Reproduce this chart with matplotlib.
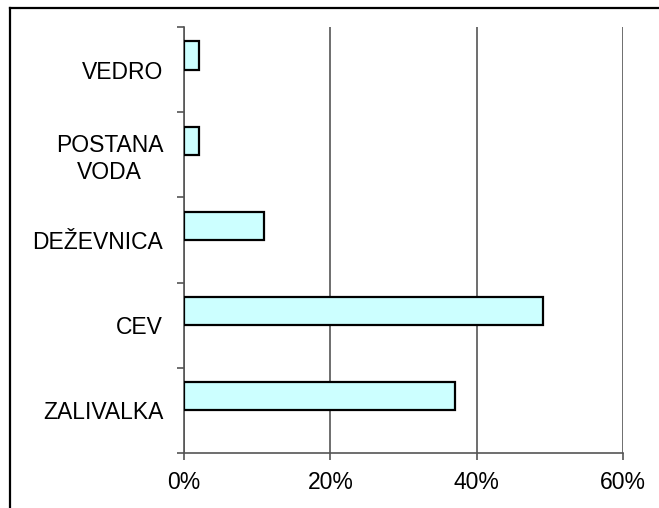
import numpy as np
import matplotlib
matplotlib.use('Agg')
import matplotlib.pyplot as plt
from matplotlib.lines import Line2D

plt.rcParams['font.family'] = ['Liberation Sans', 'DejaVu Sans']

categories = ['ZALIVALKA', 'CEV', 'DEŽEVNICA', 'POSTANA\nVODA', 'VEDRO']
values = [37, 49, 11, 2, 2]
xticks = [0, 20, 40, 60]
xtick_labels = ['0%', '20%', '40%', '60%']

fig = plt.figure(figsize=(6.59, 5.08), dpi=100)
ax = fig.add_axes([0.2792, 0.1083, 0.6662, 0.8386])

pos = np.arange(len(categories))
ax.barh(pos + 0.165, values, height=0.33, color='#CCFFFF',
        edgecolor='black', linewidth=1.6, zorder=3)

ax.set_xlim(0, 60)
ax.set_ylim(-0.5, len(categories) - 0.5)
ax.set_xticks(xticks)
ax.set_xticklabels(xtick_labels, fontsize=16.5)
ax.set_yticks(pos)
ax.set_yticklabels(categories, fontsize=16.5, multialignment='center')
ax.set_yticks(np.arange(len(categories) + 1) - 0.5, minor=True)

ax.tick_params(axis='y', which='major', length=0, pad=15)
ax.tick_params(axis='y', which='minor', length=5, width=1.2, color='#555555', direction='out')
ax.tick_params(axis='x', length=5, width=1.2, color='#555555', direction='out', pad=8)

ax.grid(axis='x', color='#555555', linewidth=1.2, zorder=0)
for s in ['top', 'right']:
    ax.spines[s].set_visible(False)
for s in ['left', 'bottom']:
    ax.spines[s].set_color('#555555')
    ax.spines[s].set_linewidth(1.2)

# outer frame (top and left only, the rest is cropped)
fig.add_artist(Line2D([0.0152, 1.0], [0.984, 0.984], color='black', linewidth=1.6,
                      transform=fig.transFigure))
fig.add_artist(Line2D([0.0152, 0.0152], [0.0, 0.984], color='black', linewidth=1.6,
                      transform=fig.transFigure))

fig.savefig('out.png', dpi=100)
